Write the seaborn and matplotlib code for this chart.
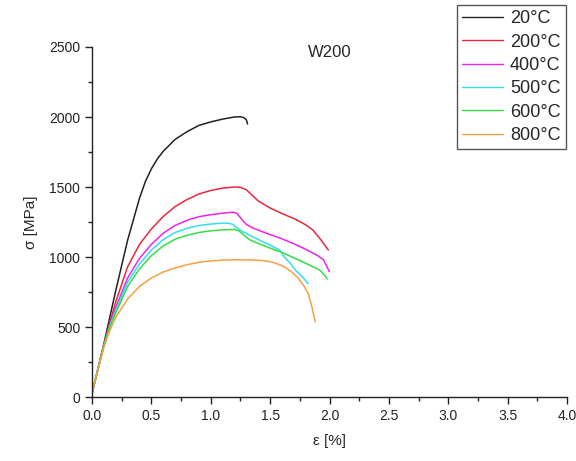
import matplotlib
matplotlib.use("Agg")
import matplotlib.pyplot as plt
from matplotlib.ticker import MultipleLocator, FormatStrFormatter
import pandas as pd
import seaborn as sns

# Stress-strain curves of W200 at different test temperatures
labels = ["20°C", "200°C", "400°C", "500°C", "600°C", "800°C"]
colors = ["#222222", "#e8283a", "#ee22ee", "#33ddee", "#33dd44", "#f5a040"]

strain_20 = [0.0, 0.05, 0.10, 0.20, 0.30, 0.40, 0.45, 0.50, 0.55, 0.60, 0.70, 0.80, 0.90, 1.00, 1.10, 1.20, 1.25, 1.28, 1.30, 1.31]
stress_20 = [25, 200, 380, 760, 1120, 1420, 1540, 1630, 1700, 1755, 1840, 1895, 1940, 1965, 1985, 2000, 2002, 1995, 1980, 1950]

strain_200 = [0.0, 0.05, 0.10, 0.15, 0.20, 0.30, 0.40, 0.50, 0.60, 0.70, 0.80, 0.90, 1.00, 1.10, 1.20, 1.25, 1.30, 1.35, 1.40, 1.50, 1.60, 1.70, 1.80, 1.86, 1.93, 1.99]
stress_200 = [25, 200, 372, 530, 680, 930, 1090, 1200, 1290, 1360, 1410, 1450, 1475, 1492, 1500, 1498, 1480, 1440, 1400, 1350, 1310, 1275, 1230, 1193, 1120, 1050]

strain_400 = [0.0, 0.05, 0.10, 0.15, 0.20, 0.30, 0.40, 0.50, 0.60, 0.70, 0.80, 0.90, 1.00, 1.10, 1.19, 1.22, 1.26, 1.30, 1.36, 1.50, 1.60, 1.70, 1.80, 1.90, 1.95, 1.97, 2.00]
stress_400 = [25, 200, 368, 515, 640, 850, 990, 1090, 1170, 1225, 1262, 1288, 1302, 1313, 1320, 1312, 1270, 1232, 1205, 1160, 1130, 1095, 1055, 1010, 980, 945, 895]

strain_500 = [0.0, 0.05, 0.10, 0.15, 0.20, 0.30, 0.40, 0.50, 0.60, 0.70, 0.80, 0.90, 1.00, 1.10, 1.15, 1.19, 1.22, 1.27, 1.40, 1.50, 1.58, 1.62, 1.67, 1.72, 1.78, 1.82]
stress_500 = [25, 200, 366, 508, 620, 820, 950, 1050, 1125, 1175, 1205, 1225, 1235, 1242, 1241, 1232, 1208, 1180, 1125, 1085, 1050, 1000, 955, 900, 850, 810]

strain_600 = [0.0, 0.05, 0.10, 0.15, 0.20, 0.30, 0.40, 0.50, 0.60, 0.70, 0.80, 0.90, 1.00, 1.10, 1.20, 1.24, 1.28, 1.33, 1.45, 1.60, 1.75, 1.85, 1.92, 1.96, 1.98]
stress_600 = [25, 198, 364, 500, 600, 790, 915, 1010, 1080, 1127, 1155, 1175, 1187, 1194, 1197, 1185, 1155, 1122, 1080, 1032, 975, 935, 905, 870, 843]

strain_800 = [0.0, 0.05, 0.10, 0.15, 0.20, 0.30, 0.40, 0.50, 0.60, 0.70, 0.80, 0.90, 1.00, 1.10, 1.20, 1.35, 1.47, 1.55, 1.62, 1.68, 1.73, 1.78, 1.82, 1.85, 1.88]
stress_800 = [25, 195, 355, 475, 570, 700, 790, 850, 893, 922, 945, 962, 972, 978, 980, 979, 972, 955, 930, 895, 855, 800, 740, 650, 538]

strains = [strain_20, strain_200, strain_400, strain_500, strain_600, strain_800]
stresses = [stress_20, stress_200, stress_400, stress_500, stress_600, stress_800]

frames = []
for lab, e, s in zip(labels, strains, stresses):
    frames.append(pd.DataFrame({"strain": e, "stress": s, "T": lab}))
df = pd.concat(frames, ignore_index=True)

sns.set_style("ticks")
plt.rcParams["font.family"] = ["Liberation Sans", "DejaVu Sans"]

fig = plt.figure(figsize=(5.76, 4.61), dpi=100)
ax = fig.add_axes([92 / 576, 1 - 397 / 461, 475 / 576, 350 / 461])

sns.lineplot(data=df, x="strain", y="stress", hue="T", hue_order=labels,
             palette=colors, sort=False, estimator=None, linewidth=1.1, ax=ax,
             legend=False)

ax.set_xlim(0, 4.0)
ax.set_ylim(0, 2500)
ax.xaxis.set_major_locator(MultipleLocator(0.5))
ax.xaxis.set_minor_locator(MultipleLocator(0.25))
ax.yaxis.set_major_locator(MultipleLocator(500))
ax.yaxis.set_minor_locator(MultipleLocator(250))
ax.xaxis.set_major_formatter(FormatStrFormatter("%.1f"))
ax.tick_params(which="major", direction="out", length=5, width=1, labelsize=10, colors="#222222")
ax.tick_params(which="minor", direction="out", length=3, width=1, colors="#222222")
for side in ["top", "right"]:
    ax.spines[side].set_visible(False)
for side in ["left", "bottom"]:
    ax.spines[side].set_linewidth(1.0)
    ax.spines[side].set_color("#222222")

ax.set_xlabel("ε [%]", fontsize=11, labelpad=8)
ax.set_ylabel("σ [MPa]", fontsize=11, labelpad=8)
ax.text(0.50, 1.005, "W200", transform=ax.transAxes, ha="center", va="top", fontsize=12)

handles = [plt.Line2D([0], [0], color=c, lw=1.0) for c in colors]
leg = ax.legend(handles, labels, loc="upper right",
                bbox_to_anchor=(566 / 576, 1 - 5 / 461), bbox_transform=fig.transFigure,
                fontsize=13, frameon=True, fancybox=False, framealpha=1,
                edgecolor="#555555", handlelength=2.25, handletextpad=0.4,
                labelspacing=0.35, borderpad=0.3, borderaxespad=0)
leg.get_frame().set_linewidth(1.0)

fig.savefig("out.png", dpi=100)
